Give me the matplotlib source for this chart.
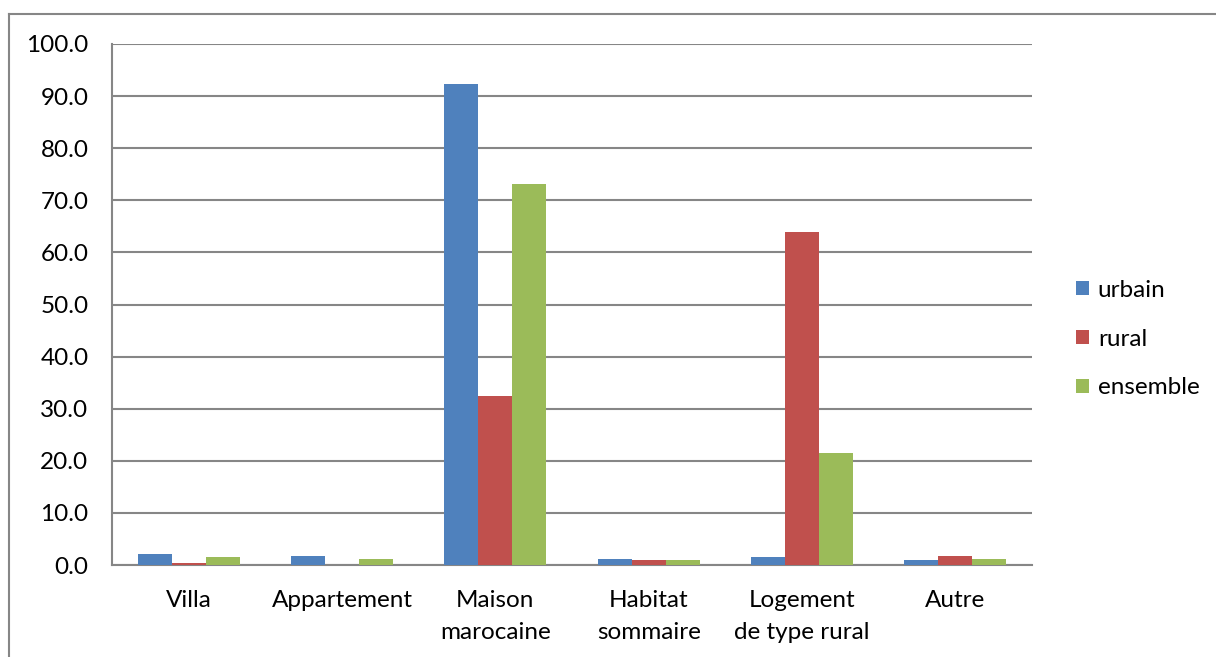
import matplotlib.pyplot as plt
import numpy as np
from matplotlib.lines import Line2D

categories = ["Villa", "Appartement", "Maison\nmarocaine", "Habitat\nsommaire",
              "Logement\nde type rural", "Autre"]
urbain = [2.2, 1.7, 92.3, 1.1, 1.5, 0.9]
rural = [0.4, 0.0, 32.5, 0.9, 63.9, 1.8]
ensemble = [1.6, 1.1, 73.1, 1.0, 21.5, 1.2]
series_names = ["urbain", "rural", "ensemble"]
yticks = np.arange(0, 101, 10)

colors = ["#4f81bd", "#c0504d", "#9bbb59"]
grid_color = "#868686"
fs = 17.5

plt.rcParams['font.family'] = ['Lato', 'DejaVu Sans']

fig = plt.figure(figsize=(12.16, 6.57), dpi=100)
ax = fig.add_axes([112 / 1216, 1 - 565 / 657, 920 / 1216, 521 / 657])

x = np.arange(len(categories))
w = 0.222
for i, (vals, name) in enumerate(zip([urbain, rural, ensemble], series_names)):
    ax.bar(x + (i - 1) * w, vals, width=w, color=colors[i], label=name, zorder=3)

ax.set_xlim(-0.5, len(categories) - 0.5)
ax.set_ylim(0, 100)
ax.set_yticks(yticks)
ax.set_yticklabels(["%.1f" % v for v in yticks], fontsize=fs)
ax.set_xticks(x)
ax.set_xticklabels(categories, fontsize=fs, linespacing=1.65)
ax.tick_params(axis='both', length=0)
ax.tick_params(axis='y', pad=17)
ax.tick_params(axis='x', pad=18)
ax.grid(axis='y', color=grid_color, linewidth=1.5, zorder=0)
for s in ["top", "right"]:
    ax.spines[s].set_visible(False)
for s in ["left", "bottom"]:
    ax.spines[s].set_color(grid_color)
    ax.spines[s].set_linewidth(1.5)

fig.legend(loc='center left', bbox_to_anchor=(1054 / 1216, 1 - 339 / 657),
           frameon=False, fontsize=fs, handlelength=0.55, handleheight=0.55,
           labelspacing=1.15, handletextpad=0.35)

# outer chart border (left and top visible)
fig.add_artist(Line2D([9 / 1216, 9 / 1216], [0, 1 - 13.5 / 657],
                      transform=fig.transFigure, color=grid_color, linewidth=1.5))
fig.add_artist(Line2D([9 / 1216, 1], [1 - 13.5 / 657, 1 - 13.5 / 657],
                      transform=fig.transFigure, color=grid_color, linewidth=1.5))

fig.savefig("out.png", dpi=100)
